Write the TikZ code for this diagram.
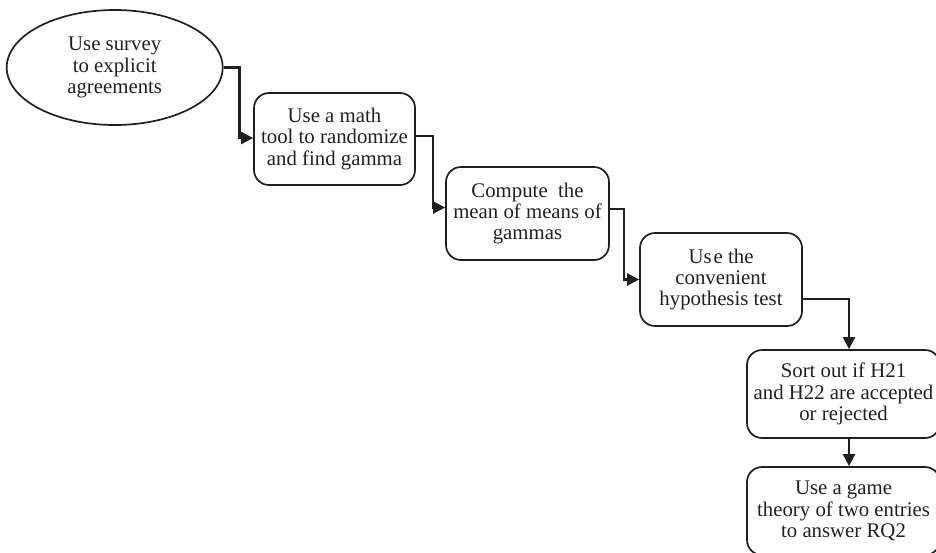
\documentclass[tikz,border=0pt]{standalone}
\usepackage{fontspec}
\setmainfont{Liberation Serif}
\usetikzlibrary{shapes.geometric,arrows.meta}
\definecolor{ink}{HTML}{231F20}
\begin{document}
\begin{tikzpicture}[x=1pt,y=-1pt,
  every node/.style={font=\fontsize{20.8}{21.3}\selectfont, text=ink, align=center, inner sep=0pt},
  stepbox/.style={draw=ink, line width=1.7pt, rounded corners=15pt, minimum height=92pt},
  startoval/.style={draw=ink, line width=1.7pt, ellipse, minimum width=216pt, minimum height=115pt},
  conn/.style={draw=ink, line width=2.4pt, -{Triangle[length=12pt,width=12pt]}}]
\useasboundingbox (0,0) rectangle (936,552);

% process steps
\node[startoval] (s) at (114.7,67.5) {Use survey\\to explicit\\agreements};
\node[stepbox, minimum width=161pt] (b2) at (334.5,139) {Use a math\\tool to randomize\\and find gamma};
\node[stepbox, minimum width=163pt, minimum height=93pt] (b3) at (527.5,213.5) {Compute\ \ the\\mean of means of\\gammas};
\node[stepbox, minimum width=162pt, minimum height=93pt] (b4) at (721,279.5) {Us\kern2pt e the\\convenient\\hypothesis test};
\node[stepbox, minimum width=193pt, minimum height=88pt] (b5) at (843.5,394) {Sort out if H21\\and H22 are accepted\\or rejected};
\node[stepbox, minimum width=193pt, minimum height=88pt] (b6) at (843.5,511) {Use a game\\theory of two entries\\to answer RQ2};

% connectors
\draw[conn] (s.east) -- ++(16,0) |- ([yshift=1pt]b2.west);
\draw[conn] ([yshift=3pt]b2.east) -- ++(17,0) |- ([yshift=6pt]b3.west);
\draw[conn] ([yshift=4.5pt]b3.east) -- ++(14,0) |- (b4.west);
\draw[conn] ([yshift=-19.5pt]b4.east) -| ([xshift=5.5pt]b5.north);
\draw[conn] ([xshift=5.5pt]b5.south) -- ([xshift=5.5pt]b6.north);
\end{tikzpicture}
\end{document}
